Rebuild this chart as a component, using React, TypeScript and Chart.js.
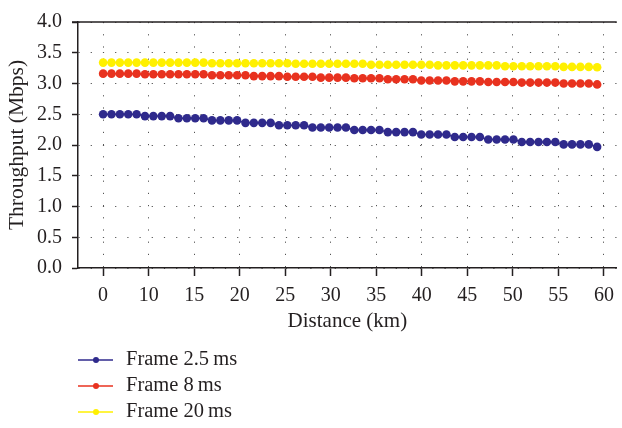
import React, { useEffect, useRef } from "react";
import { Chart, registerables } from "chart.js";

Chart.register(...registerables);

const DISTANCE_KM = [
  0, 1, 2, 3, 4, 5, 6, 7, 8, 9, 10, 11, 12, 13, 14, 15, 16, 17, 18, 19,
  20, 21, 22, 23, 24, 25, 26, 27, 28, 29, 30, 31, 32, 33, 34, 35, 36, 37, 38, 39,
  40, 41, 42, 43, 44, 45, 46, 47, 48, 49, 50, 51, 52, 53, 54, 55, 56, 57, 58, 59,
];

const FRAME_2_5 = [
  2.5, 2.5, 2.5, 2.5, 2.5, 2.47, 2.47, 2.47, 2.47, 2.435, 2.435, 2.435, 2.435,
  2.4, 2.4, 2.4, 2.4, 2.36, 2.36, 2.36, 2.36, 2.32, 2.32, 2.32, 2.32,
  2.285, 2.285, 2.285, 2.285, 2.285, 2.245, 2.245, 2.245, 2.245,
  2.21, 2.21, 2.21, 2.21, 2.17, 2.17, 2.17, 2.17, 2.13, 2.13, 2.13, 2.13,
  2.09, 2.09, 2.09, 2.09, 2.05, 2.05, 2.05, 2.05, 2.05, 2.01, 2.01, 2.01, 2.01, 1.97,
];

const FRAME_8 = [
  3.16, 3.16, 3.16, 3.16, 3.16, 3.15, 3.15, 3.15, 3.15, 3.15, 3.15, 3.15, 3.15,
  3.135, 3.135, 3.135, 3.135, 3.135, 3.12, 3.12, 3.12, 3.12, 3.11, 3.11, 3.11, 3.11,
  3.095, 3.095, 3.095, 3.095, 3.085, 3.085, 3.085, 3.085, 3.07, 3.07, 3.07, 3.07,
  3.05, 3.05, 3.05, 3.05, 3.035, 3.035, 3.035, 3.035, 3.025, 3.025, 3.025, 3.025,
  3.015, 3.015, 3.015, 3.015, 3.015, 3.0, 3.0, 3.0, 3.0, 2.985,
];

const FRAME_20 = [
  3.34, 3.34, 3.34, 3.34, 3.34, 3.34, 3.34, 3.34, 3.34, 3.34, 3.34, 3.34, 3.34,
  3.33, 3.33, 3.33, 3.33, 3.33, 3.33, 3.33, 3.33, 3.33, 3.33,
  3.32, 3.32, 3.32, 3.32, 3.32, 3.32, 3.32, 3.32, 3.32,
  3.305, 3.305, 3.305, 3.305, 3.305, 3.305, 3.305, 3.305,
  3.295, 3.295, 3.295, 3.295, 3.295, 3.295, 3.295, 3.295,
  3.28, 3.28, 3.28, 3.28, 3.28, 3.28, 3.28, 3.27, 3.27, 3.27, 3.27, 3.265,
];

const SERIES_LABELS = ["Frame 2.5\u2009ms", "Frame 8\u2009ms", "Frame 20\u2009ms"];
const SERIES_COLORS = ["#2f2a8c", "#e8321f", "#fff000"];
const X_TICK_LABELS = ["0", "10", "15", "20", "25", "30", "35", "40", "45", "50", "55", "60"];
const X_TICK_STEP = 5.437;
const X_TITLE = "Distance (km)";
const Y_TITLE = "Throughput (Mbps)";

const FONT = "'Liberation Serif', 'Times New Roman', serif";
const INK = "#231f20";

const overlayPlugin = {
  id: "overlay",
  afterDraw(chart: any) {
    const { ctx, chartArea } = chart;
    ctx.save();
    // top frame line
    ctx.strokeStyle = INK;
    ctx.lineWidth = 1.5;
    ctx.beginPath();
    ctx.moveTo(chartArea.left - 6, chartArea.top);
    ctx.lineTo(chartArea.right, chartArea.top);
    ctx.stroke();
    // legend
    chart.data.datasets.forEach((ds: any, i: number) => {
      const y = 360 + i * 26;
      const x0 = chartArea.left;
      ctx.strokeStyle = ds.borderColor;
      ctx.lineWidth = 1.5;
      ctx.beginPath();
      ctx.moveTo(x0, y);
      ctx.lineTo(x0 + 35, y);
      ctx.stroke();
      ctx.fillStyle = ds.pointBackgroundColor;
      ctx.beginPath();
      ctx.arc(x0 + 18, y, 3, 0, Math.PI * 2);
      ctx.fill();
      ctx.fillStyle = INK;
      ctx.font = `20.5px ${FONT}`;
      ctx.textBaseline = "middle";
      ctx.textAlign = "left";
      ctx.fillText(ds.label, x0 + 48, y);
    });
    ctx.restore();
  },
};

export default function App() {
  const ref = useRef<HTMLCanvasElement | null>(null);
  useEffect(() => {
    if (!ref.current) return;
    const series = [FRAME_2_5, FRAME_8, FRAME_20];
    const chart = new Chart(ref.current, {
      type: "line",
      data: {
        datasets: series.map((vals, i) => ({
          label: SERIES_LABELS[i],
          data: vals.map((v, j) => ({ x: DISTANCE_KM[j], y: v })),
          borderColor: SERIES_COLORS[i],
          backgroundColor: SERIES_COLORS[i],
          pointBackgroundColor: SERIES_COLORS[i],
          pointBorderWidth: 0,
          pointRadius: 4.3,
          borderWidth: 1.5,
          tension: 0,
          fill: false,
        })),
      },
      options: {
        animation: false,
        responsive: false,
        devicePixelRatio: 1,
        layout: { padding: { top: 14, right: 2, bottom: 80, left: 0 } },
        plugins: { legend: { display: false }, tooltip: { enabled: false } },
        scales: {
          x: {
            type: "linear",
            min: -3.0,
            max: 61.34,
            afterBuildTicks: (scale: any) => {
              scale.ticks = X_TICK_LABELS.map((_, i) => ({ value: i * X_TICK_STEP }));
            },
            afterFit: (scale: any) => {
              scale.height = 80;
            },
            ticks: {
              autoSkip: false,
              maxRotation: 0,
              padding: 8,
              color: INK,
              font: { family: FONT, size: 20 },
              callback: (_v: any, i: number) => X_TICK_LABELS[i],
            },
            grid: {
              color: "#555",
              lineWidth: 1,
              tickLength: 8,
              tickColor: INK,
              tickWidth: 1.5,
            },
            border: { display: true, color: INK, width: 1.5, dash: [1.2, 11] },
            title: {
              display: true,
              text: X_TITLE,
              color: INK,
              font: { family: FONT, size: 21 },
              padding: { top: 0, bottom: 14 },
            },
          },
          y: {
            type: "linear",
            min: 0,
            max: 4,
            afterFit: (scale: any) => {
              scale.width = 78;
            },
            ticks: {
              stepSize: 0.5,
              padding: 10,
              color: INK,
              font: { family: FONT, size: 20 },
              callback: (v: any) => Number(v).toFixed(1),
            },
            grid: {
              color: "#555",
              lineWidth: 1,
              tickLength: 6,
              tickColor: INK,
              tickWidth: 1.5,
            },
            border: { display: true, color: INK, width: 1.5, dash: [1.2, 11] },
            title: {
              display: true,
              text: Y_TITLE,
              color: INK,
              font: { family: FONT, size: 21.5 },
              padding: { top: 4, bottom: 0 },
            },
          },
        },
      },
      plugins: [overlayPlugin],
    });
    return () => chart.destroy();
  }, []);
  return (
    <div style={{ position: "absolute", left: 0, top: 0, width: 622, height: 428, background: "#fff" }}>
      <canvas ref={ref} width={622} height={428} style={{ display: "block" }} />
    </div>
  );
}
